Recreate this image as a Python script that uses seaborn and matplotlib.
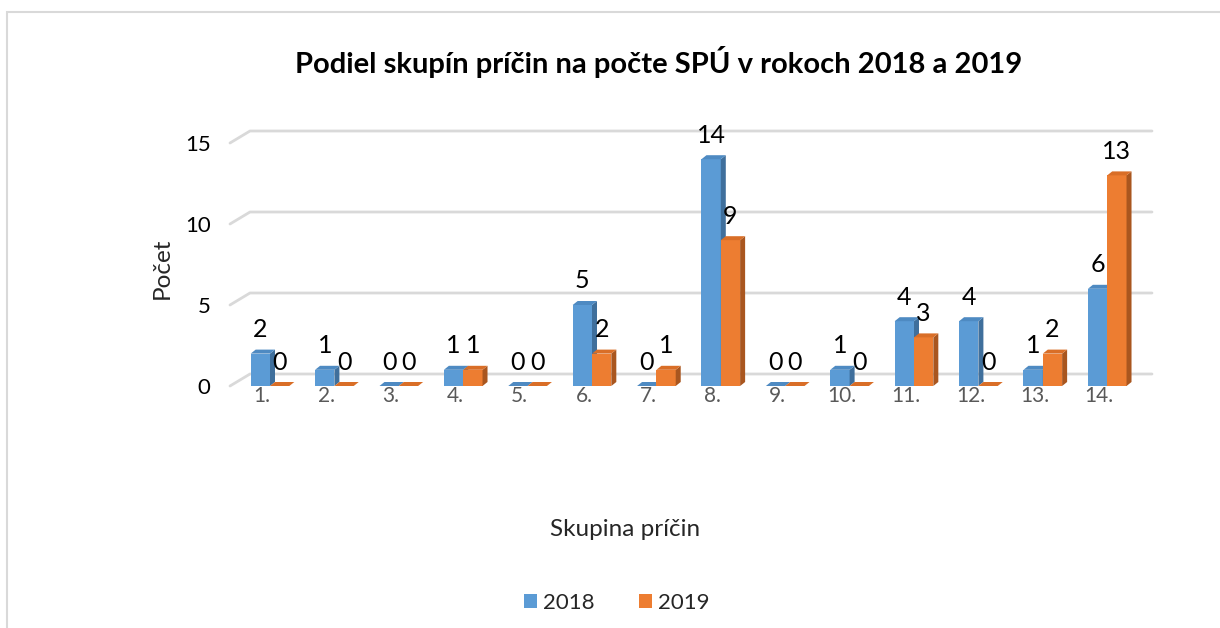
import numpy as np
import pandas as pd
import seaborn as sns
import matplotlib.pyplot as plt
from matplotlib.patches import Polygon, Rectangle

categories = ["1.", "2.", "3.", "4.", "5.", "6.", "7.", "8.", "9.", "10.", "11.", "12.", "13.", "14."]
years = ["2018", "2019"]
values_2018 = [2, 1, 0, 1, 0, 5, 0, 14, 0, 1, 4, 4, 1, 6]
values_2019 = [0, 0, 0, 1, 0, 2, 1, 9, 0, 0, 3, 0, 2, 13]
y_ticks = [0, 5, 10, 15]

front = {"2018": "#5B9BD5", "2019": "#ED7D31"}
side = {"2018": "#3F6F9C", "2019": "#A9561F"}
top = {"2018": "#4E8AC2", "2019": "#D96E27"}

sns.set_theme(style="white")
plt.rcParams["font.family"] = ["Lato", "DejaVu Sans"]

df = pd.DataFrame({
    "skupina": categories * 2,
    "rok": [years[0]] * len(categories) + [years[1]] * len(categories),
    "pocet": values_2018 + values_2019,
})

W, H = 1220, 628
fig = plt.figure(figsize=(W / 100, H / 100), dpi=100)
# chart area border (only top/left visible in the crop)
fig.patches.append(Rectangle((7 / W, -0.1), 1.2, 1 - 12 / H + 0.1, transform=fig.transFigure,
                             fill=False, edgecolor="#D9D9D9", linewidth=1.5))

ax_l, ax_r, ax_b, ax_t = 230, 1132, 386, 143
ax = fig.add_axes([ax_l / W, 1 - ax_b / H, (ax_r - ax_l) / W, (ax_b - ax_t) / H])

sns.barplot(data=df, x="skupina", y="pocet", hue="rok", palette=front, saturation=1,
            width=0.6, legend=False, ax=ax, zorder=3)

step = 64.4  # px per category
x0 = -40 / step
x1 = x0 + (ax_r - ax_l) / step
ax.set_xlim(x0, x1)
ax.set_ylim(0, 15)
ppu = (ax_b - ax_t) / 15  # px per unit on y

# back-wall gridlines with a little 3D offset
gdx, gdy = 20 / step, 12 / ppu
for v in y_ticks:
    ax.plot([x0, x0 + gdx, x1 + gdx], [v, v + gdy, v + gdy], color="#D9D9D9",
            lw=2, clip_on=False, zorder=1)

# fake depth on the bars
bdx, bdy = 5 / step, 4 / ppu
for k, (cont, yr) in enumerate(zip(ax.containers, years)):
    vals = values_2018 if yr == "2018" else values_2019
    for p, v in zip(cont.patches, vals):
        p.set_zorder(3 + 2 * k)
        p.set_linewidth(0)
        bx, bw, bh = p.get_x(), p.get_width(), p.get_height()
        ax.add_patch(Polygon([(bx + bw, 0), (bx + bw + bdx, bdy), (bx + bw + bdx, bh + bdy), (bx + bw, bh)],
                             closed=True, facecolor=side[yr], lw=0, zorder=3.5 + 2 * k, clip_on=False))
        ax.add_patch(Polygon([(bx, bh), (bx + bdx, bh + bdy), (bx + bw + bdx, bh + bdy), (bx + bw, bh)],
                             closed=True, facecolor=top[yr], lw=0, zorder=3.6 + 2 * k, clip_on=False))
        ax.annotate(str(v), (bx + bw / 2, bh), xytext=(0, 24 * 0.72), textcoords="offset points",
                    ha="center", va="center", fontsize=18, color="#000000", zorder=10,
                    annotation_clip=False)

ax.set_xticks(np.arange(len(categories)) - 8 / step)
ax.set_xticklabels(categories)
ax.set_yticks(y_ticks)
ax.tick_params(axis="x", length=0, pad=0, labelsize=15, labelcolor="#595959")
ax.tick_params(axis="y", length=0, pad=14, labelsize=16, labelcolor="#000000")
ax.set_xlabel("")
ax.set_ylabel("")
for s in ax.spines.values():
    s.set_visible(False)
ax.set_facecolor("none")

fig.text(659 / W, 1 - 62 / H, "Podiel skupín príčin na počte SPÚ v rokoch 2018 a 2019",
         ha="center", va="center", fontsize=21, fontweight="bold", color="#000000")
fig.text(162 / W, 1 - 268 / H, "Počet", rotation=90, ha="center", va="center", fontsize=17.5)
fig.text(625 / W, 1 - 530 / H, "Skupina príčin", ha="center", va="center", fontsize=17.5)

handles = [Rectangle((0, 0), 1, 1, facecolor=front[y], edgecolor="none") for y in years]
fig.legend(handles, years, loc="center", bbox_to_anchor=(617 / W, 1 - 603 / H), ncol=2,
           frameon=False, fontsize=16, handlelength=0.55, handleheight=0.55,
           handletextpad=0.3, columnspacing=2.0)

fig.savefig("out.png", dpi=100, facecolor="white")
